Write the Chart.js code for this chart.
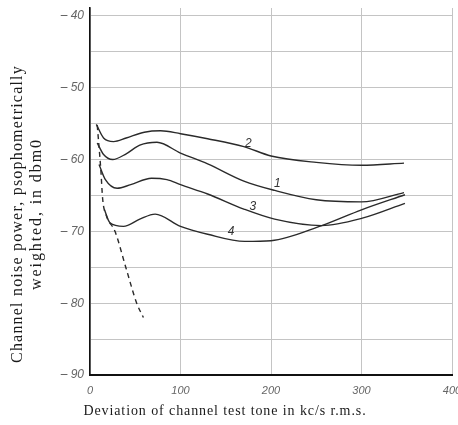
<!DOCTYPE html>
<html>
<head>
<meta charset="utf-8">
<script src="https://cdn.jsdelivr.net/npm/chart.js@4"></script>
<style>
  html, body { margin: 0; padding: 0; background: #fff; }
  #wrap { width: 458px; height: 425px; }
</style>
</head>
<body>
<div id="wrap"><canvas id="noise" width="458" height="425"></canvas></div>
<script>
// curve 1
var c1X = [8, 15, 25, 40, 55, 74, 100, 130, 170, 204, 250, 300, 347];
var c1Y = [-57.7, -59.3, -60.0, -59.2, -58.0, -57.6, -59.1, -60.6, -63.0, -64.3, -65.6, -65.9, -64.6];
// curve 2
var c2X = [7, 15, 26, 40, 60, 78, 100, 130, 170, 200, 250, 300, 347];
var c2Y = [-55.1, -57.0, -57.5, -57.0, -56.2, -56.0, -56.4, -57.1, -58.2, -59.5, -60.4, -60.8, -60.5];
// curve 3
var c3X = [10, 17, 30, 45, 68, 85, 100, 130, 170, 204, 256, 300, 348];
var c3Y = [-60.7, -62.8, -64.0, -63.5, -62.6, -62.8, -63.5, -64.8, -66.9, -68.3, -69.2, -68.2, -66.1];
// curve 4
var c4X = [16, 22, 37, 55, 72, 100, 130, 171, 200, 256, 300, 348];
var c4Y = [-67.0, -68.8, -69.3, -68.3, -67.6, -69.3, -70.4, -71.4, -71.3, -69.2, -67.0, -64.9];
// dashed curve
var dX = [8, 12, 14, 18, 27.6, 40, 51.6, 59];
var dY = [-55.2, -61.5, -65.5, -67.8, -70.0, -75.2, -80.0, -82.0];

// curve numbers written on the plot
var numText = ['1', '2', '3', '4'];
var numX = [207, 175, 180, 156];
var numY = [-63.4, -57.8, -66.6, -70.0];

var xTicks = [0, 100, 200, 300, 400];
var yTicks = [-90, -85, -80, -75, -70, -65, -60, -55, -50, -45, -40];
var yTitle = ['Channel noise power, psophometrically', 'weighted, in dbm0'];
var xTitle = 'Deviation of channel test tone in kc/s r.m.s.';

function pts(xs, ys) {
  return xs.map(function (x, i) { return { x: x, y: ys[i] }; });
}

function curve(xs, ys, dash) {
  return {
    data: pts(xs, ys),
    showLine: true,
    borderColor: '#2a2a2a',
    borderWidth: 1.4,
    borderDash: dash || [],
    pointRadius: 0,
    cubicInterpolationMode: 'monotone',
    fill: false
  };
}

var textPlugin = {
  id: 'textPlugin',
  afterDatasetsDraw: function (chart) {
    var ctx = chart.ctx;
    var xs = chart.scales.x, ys = chart.scales.y;
    ctx.save();
    ctx.fillStyle = '#333';
    ctx.font = 'italic 12px "Liberation Sans"';
    ctx.textAlign = 'center';
    ctx.textBaseline = 'middle';
    numText.forEach(function (t, i) {
      ctx.fillText(t, xs.getPixelForValue(numX[i]), ys.getPixelForValue(numY[i]));
    });
    ctx.restore();

    // axis titles
    ctx.save();
    ctx.fillStyle = '#1a1a1a';
    ctx.textAlign = 'center';
    ctx.textBaseline = 'middle';
    ctx.font = '16px "Liberation Serif"';
    ctx.letterSpacing = '1.2px';
    ctx.translate(18, 214);
    ctx.rotate(-Math.PI / 2);
    ctx.fillText(yTitle[0], 0, 0);
    ctx.letterSpacing = '1.9px';
    ctx.fillText(yTitle[1], 0, 19);
    ctx.restore();

    ctx.save();
    ctx.fillStyle = '#1a1a1a';
    ctx.textAlign = 'center';
    ctx.textBaseline = 'middle';
    ctx.font = '14px "Liberation Serif"';
    ctx.letterSpacing = '0.9px';
    ctx.fillText(xTitle, 225, 411);
    ctx.restore();
  }
};

var ctx_noise = document.getElementById('noise').getContext('2d');
var noiseGraph = new Chart(ctx_noise, {
  type: 'scatter',
  data: {
    datasets: [
      curve(c1X, c1Y),
      curve(c2X, c2Y),
      curve(c3X, c3Y),
      curve(c4X, c4Y),
      curve(dX, dY, [5, 4])
    ]
  },
  options: {
    responsive: false,
    animation: false,
    layout: { autoPadding: false, padding: { top: 8, right: 6, left: 0, bottom: 0 } },
    plugins: { legend: { display: false }, tooltip: { enabled: false } },
    scales: {
      x: {
        type: 'linear',
        min: 0,
        max: 400,
        afterBuildTicks: function (s) { s.ticks = xTicks.map(function (v) { return { value: v }; }); },
        afterFit: function (s) { s.height = 50; s.paddingLeft = 0; s.paddingRight = 0; },
        grid: { color: '#c4c4c4', lineWidth: 1, drawTicks: false },
        border: { color: '#111', width: 2 },
        ticks: {
          padding: 9,
          color: '#666',
          font: { family: '"Liberation Sans"', size: 11, style: 'italic' }
        }
      },
      y: {
        type: 'linear',
        min: -90,
        max: -38.9,
        afterBuildTicks: function (s) { s.ticks = yTicks.map(function (v) { return { value: v }; }); },
        afterFit: function (s) { s.width = 90; s.paddingTop = 0; s.paddingBottom = 0; },
        grid: { color: '#c4c4c4', lineWidth: 1, drawTicks: false },
        border: { color: '#111', width: 1.6 },
        ticks: {
          padding: 6,
          color: '#666',
          font: { family: '"Liberation Sans"', size: 12, style: 'italic' },
          callback: function (v) { return v % 10 === 0 ? '\u2013 ' + Math.abs(v) : ''; }
        }
      }
    }
  },
  plugins: [textPlugin]
});
</script>
</body>
</html>
